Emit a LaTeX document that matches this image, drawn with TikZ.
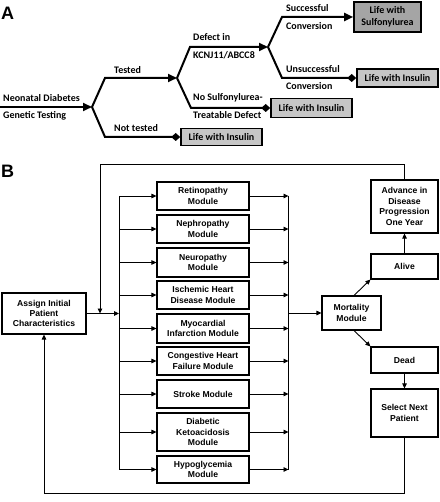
\documentclass[tikz,border=0pt]{standalone}
\usepackage{fontspec}
\setmainfont{Liberation Sans}
\newfontfamily\calfont{Carlito}
\usetikzlibrary{arrows.meta,calc}
\definecolor{insgray}{RGB}{198,198,198}
\definecolor{sulgray}{RGB}{165,165,165}
\tikzset{
  aline/.style={line width=2pt},
  atri/.style={-{Triangle[length=9pt,width=8pt]}},
  adia/.style={-{Diamond[length=9pt,width=8pt]}},
  abox/.style={draw, line width=1.6pt, fill=insgray, inner sep=0pt, align=center,
    font=\calfont\bfseries\fontsize{10}{11.5}\selectfont},
  alabel/.style={anchor=west, inner sep=0pt, font=\calfont\bfseries\fontsize{10}{12}\selectfont},
  panel/.style={anchor=west, inner sep=0pt, font=\bfseries\fontsize{18}{18}\selectfont},
  bline/.style={line width=0.9pt},
  btri/.style={-{Triangle[length=5pt,width=4.5pt]}},
  bbox/.style={draw, line width=1.1pt, inner sep=0pt, align=center,
    font=\bfseries\fontsize{8.6}{10.4}\selectfont},
  modbox/.style={bbox, minimum width=92pt}
}
\begin{document}
\begin{tikzpicture}[x=1pt,y=-1pt]
\useasboundingbox (0,0) rectangle (439,502);
% ---------- Panel A ----------
\node[panel] (pa) at (1,13) {A};
\node[abox, fill=sulgray, minimum width=67pt, minimum height=30pt] (su) at (387.5,17) {Life with\\Sulfonylurea};
\node[abox, minimum width=81pt, minimum height=18pt] (li3) at (397.5,78) {Life with Insulin};
\node[abox, minimum width=81pt, minimum height=19pt] (li2) at (311.5,108) {Life with Insulin};
\node[abox, minimum width=81pt, minimum height=17pt] (li1) at (221.5,137) {Life with Insulin};
\coordinate (s0) at (0,107);
\coordinate (b1) at (92,107);
\coordinate (b2) at (177,78);
\coordinate (b3) at (268,47);
\draw[aline,atri] (s0) -- (b1);
\draw[aline,atri] (b1) -- ++(13,-29) -- (b2);
\draw[aline,adia] (b1) -- ++(13,30) -- (li1.west);
\draw[aline,atri] (b2) -- ++(13,-31) -- (b3);
\draw[aline,adia] (b2) -- ++(14,30) -- (li2.west);
\draw[aline,atri] (b3) -- ++(14,-30) -- (su.west);
\draw[aline,adia] (b3) -- ++(14,31) -- (li3.west);
\node[alabel] (lnd) at (3,98) {Neonatal Diabetes};
\node[alabel] (lgt) at (3,116) {Genetic Testing};
\node[alabel] (lt) at (114,70) {Tested};
\node[alabel] (lnt) at (114,128) {Not tested};
\node[alabel] (ld1) at (193,37) {Defect in};
\node[alabel] (ld2) at (193,55) {KCNJ11/ABCC8};
\node[alabel] (ln1) at (193,98) {No Sulfonylurea-};
\node[alabel] (ln2) at (193,115) {Treatable Defect};
\node[alabel] (ls1) at (286,8) {Successful};
\node[alabel] (ls2) at (286,26) {Conversion};
\node[alabel] (lu1) at (286,69) {Unsuccessful};
\node[alabel] (lu2) at (286,86) {Conversion};
% ---------- Panel B ----------
\node[panel] (pb) at (1,171) {B};
\node[bbox, minimum width=84pt, minimum height=41pt] (assign) at (44,313.5) {Assign Initial\\Patient\\Characteristics};
\node[modbox, minimum height=28pt] (m1) at (203,196) {Retinopathy\\Module};
\node[modbox, minimum height=28pt] (m2) at (203,229) {Nephropathy\\Module};
\node[modbox, minimum height=29pt] (m3) at (203,262.5) {Neuropathy\\Module};
\node[modbox, minimum height=28pt] (m4) at (203,295) {Ischemic Heart\\Disease Module};
\node[modbox, minimum height=29pt] (m5) at (203,328.5) {Myocardial\\Infarction Module};
\node[modbox, minimum height=28pt] (m6) at (203,361) {Congestive Heart\\Failure Module};
\node[modbox, minimum height=28pt] (m7) at (203,394) {Stroke Module};
\node[modbox, minimum height=38pt] (m8) at (203,432) {Diabetic\\Ketoacidosis\\Module};
\node[modbox, minimum height=27pt] (m9) at (203,469.5) {Hypoglycemia\\Module};
\node[bbox, minimum width=59pt, minimum height=34pt] (mort) at (351.5,313) {Mortality\\Module};
\node[bbox, minimum width=67pt, minimum height=53pt] (adv) at (404.5,206.5) {Advance in\\Disease\\Progression\\One Year};
\node[bbox, minimum width=67pt, minimum height=25pt] (alive) at (404.5,266.5) {Alive};
\node[bbox, minimum width=67pt, minimum height=26pt] (dead) at (404.5,360) {Dead};
\node[bbox, minimum width=67pt, minimum height=48pt] (sel) at (404.5,413) {Select Next\\Patient};
\coordinate (busLt) at (119,196);
\coordinate (busLb) at (119,469.5);
\coordinate (busRt) at (288.5,196);
\coordinate (busRb) at (288.5,469.5);
\coordinate (tl) at (100,164);
\coordinate (bl) at (44,493);
\draw[bline] (busLt) -- (busLb);
\draw[bline] (busRt) -- (busRb);
\draw[bline,btri] (assign.east) -- (assign.east -| busLt);
\foreach \m in {m1,m2,m3,m4,m5,m6,m7,m8,m9}{
  \draw[bline,btri] (\m.west -| busLt) -- (\m.west);
  \draw[bline,btri] (\m.east) -- (\m.east -| busRt);
}
\draw[bline,btri] (mort.west -| busRt) -- (mort.west);
\draw[bline,btri] ([xshift=2.5pt]mort.north) -- (alive.south west);
\draw[bline,btri] ([xshift=2.5pt]mort.south) -- (dead.north west);
\draw[bline,btri] (alive.north) -- (adv.south);
\draw[bline,btri] (dead.south) -- (sel.north);
\draw[bline,btri] (adv.north) |- (tl) -- (tl |- assign.east);
\draw[bline,btri] (sel.south) |- (bl) -- (assign.south);
\end{tikzpicture}
\end{document}
